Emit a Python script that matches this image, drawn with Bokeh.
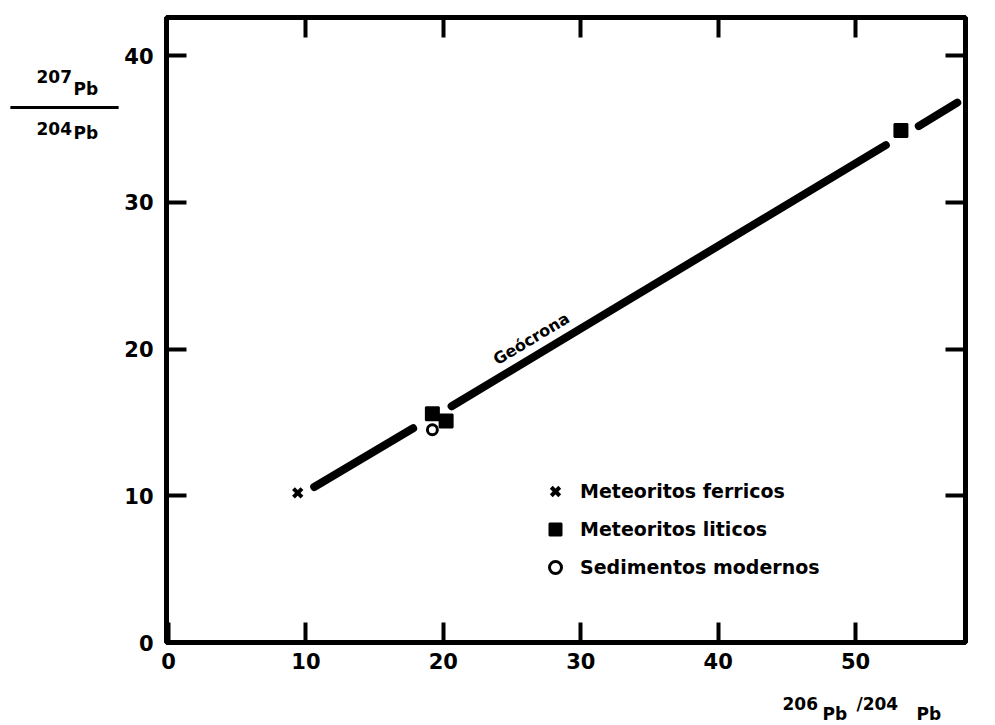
from bokeh.plotting import figure
from bokeh.models import (Range1d, LinearAxis, FixedTicker, Legend, LegendItem,
                          Label)
from bokeh.embed import file_html
from bokeh.resources import INLINE

# ---------------- data ----------------
ferricos_x = [9.4]
ferricos_y = [10.2]
liticos_x = [19.2, 20.2, 53.3]
liticos_y = [15.6, 15.1, 34.9]
sedimentos_x = [19.2]
sedimentos_y = [14.5]
geocrona_x = [[10.6, 17.8], [20.6, 52.2], [54.6, 57.4]]
geocrona_y = [[10.6, 14.6], [16.1, 33.9], [35.2, 36.8]]
x_ticks = [0, 10, 20, 30, 40, 50]
y_ticks = [0, 10, 20, 30, 40]
top_ticks = [10, 20, 30, 40, 50]
right_ticks = [10, 20, 30, 40]
legend_labels = ["Meteoritos ferricos", "Meteoritos liticos", "Sedimentos modernos"]
line_label = "Geócrona"

# ---------------- layout ----------------
W, H = 995, 725
FL, FR, FT, FB = 166, 965, 17, 642   # frame edges in canvas pixels
X0, X1 = -0.15, 58.0
Y0, Y1 = 0.0, 42.6
FONT = "DejaVu Sans"


def sx(px):
    return X0 + (px - FL) / (FR - FL) * (X1 - X0)


def sy(py):
    return Y0 + (FB - py) / (FB - FT) * (Y1 - Y0)


p = figure(width=W, height=H, output_backend="svg", toolbar_location=None,
           x_range=Range1d(X0, X1), y_range=Range1d(Y0, Y1),
           x_axis_type=None, y_axis_type=None,
           min_border_left=FL, min_border_right=W - FR,
           min_border_top=FT, min_border_bottom=H - FB)
p.grid.visible = False
p.background_fill_color = "white"
p.border_fill_color = "white"
p.outline_line_color = "black"
p.outline_line_width = 5


def make_axis(ticks, labels=True):
    ax = LinearAxis(ticker=FixedTicker(ticks=ticks))
    ax.axis_line_width = 5
    ax.axis_line_color = "black"
    ax.major_tick_line_width = 4
    ax.major_tick_in = 20
    ax.major_tick_out = 0
    ax.minor_tick_line_color = None
    if labels:
        ax.major_label_text_font = FONT
        ax.major_label_text_font_style = "bold"
        ax.major_label_text_font_size = "21px"
        ax.major_label_text_color = "black"
    else:
        ax.major_label_text_font_size = "0px"
        ax.major_label_standoff = 0
        ax.major_label_text_alpha = 0
    return ax


bottom = make_axis(x_ticks)
bottom.major_label_standoff = 10
left = make_axis(y_ticks)
left.major_label_standoff = 13
top = make_axis(top_ticks, labels=False)
right = make_axis(right_ticks, labels=False)
p.add_layout(bottom, "below")
p.add_layout(left, "left")
p.add_layout(top, "above")
p.add_layout(right, "right")

# geochron line
p.multi_line(geocrona_x, geocrona_y, line_color="black",
             line_width=8, line_cap="round", line_join="round")

# points
r_fer = p.scatter(ferricos_x, ferricos_y, marker="x", size=12,
                  line_color="black", line_width=4)
r_lit = p.scatter(liticos_x, liticos_y, marker="square", size=13,
                  fill_color="black", line_color="black", line_width=2)
r_sed = p.scatter(sedimentos_x, sedimentos_y, marker="circle", size=10,
                  fill_color="white", line_color="black", line_width=3)

legend = Legend(items=[LegendItem(label=legend_labels[0], renderers=[r_fer]),
                       LegendItem(label=legend_labels[1], renderers=[r_lit]),
                       LegendItem(label=legend_labels[2], renderers=[r_sed])],
                location=(540 - FL, FB - 582), glyph_width=30, glyph_height=30,
                spacing=8, padding=0, margin=0, label_standoff=10,
                border_line_alpha=0, background_fill_alpha=0,
                label_text_font=FONT, label_text_font_style="bold",
                label_text_font_size="19px", label_text_color="black")
p.add_layout(legend)

# line label
p.add_layout(Label(x=26.4, y=20.7, text=line_label, angle=31, angle_units="deg",
                   text_align="center", text_baseline="middle",
                   text_font=FONT, text_font_style="bold",
                   text_font_size="16px", text_color="black"))


# axis-title pieces live in the side panels so that they are not clipped
def add_text(txt, px, py, side, size="17px", baseline="alphabetic", lh=1.2):
    p.add_layout(Label(x=sx(px), y=sy(py), text=txt, text_align="left",
                       text_baseline=baseline, text_font=FONT,
                       text_font_style="bold", text_font_size=size,
                       text_line_height=lh, text_color="black"), side)


# y-axis title: 207Pb over 204Pb (numbers in one label, Pb in another)
add_text("207\n204", 36, 66, "left", baseline="top", lh=2.61)
add_text("Pb\nPb", 73, 78, "left", baseline="top", lh=2.21)
bar = Label(x=sx(64), y=sy(107), text=" ", text_align="center",
            text_baseline="middle", text_font_size="1px",
            background_fill_color="black", padding=(54, 1))
p.add_layout(bar, "above")

# x-axis title: 206Pb /204Pb
add_text("206", 782, 703, "below")
add_text("Pb", 822, 713, "below")
add_text("/204", 856, 703, "left")
add_text("Pb", 916, 713, "right")

open("out.html", "w").write(file_html(p, INLINE))
